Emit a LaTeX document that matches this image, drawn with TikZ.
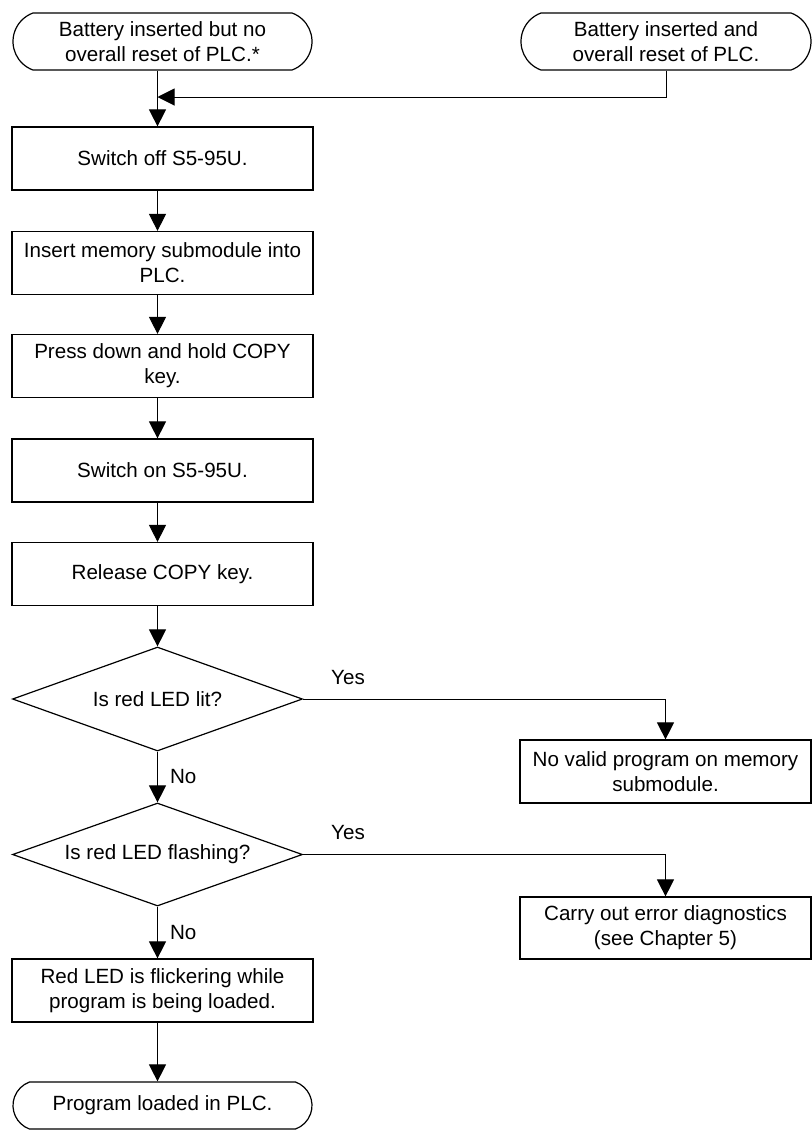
\documentclass[tikz,border=0pt]{standalone}
\usepackage{fontspec}
\setmainfont{Liberation Sans}
\usetikzlibrary{arrows.meta,positioning,shapes.geometric,shapes.misc}

\begin{document}
\begin{tikzpicture}[x=0.5pt, y=-0.5pt,
  every node/.style={font=\fontsize{10.3}{12.5}\selectfont},
  stepbox/.style={draw, line width=0.6pt, rectangle, minimum width=150.5pt, minimum height=31.5pt, align=center, inner sep=0pt},
  sidebox/.style={stepbox, minimum width=145.5pt},
  term/.style={draw, line width=0.6pt, rounded rectangle, rounded rectangle arc length=140, minimum width=149.5pt, minimum height=28.5pt, align=center, inner sep=0pt},
  decision/.style={draw, line width=0.6pt, diamond, aspect=2.8, minimum width=145pt, minimum height=52pt, inner sep=0pt, align=center},
  flow/.style={line width=0.5pt, -{Triangle[length=8.5pt, width=8.5pt]}},
  lbl/.style={inner sep=2pt}
]
\useasboundingbox (0,0) rectangle (812,1131);

% Start terminals
\node[term] (t1) at (162.5, 41.5) {Battery inserted but no\\overall reset of PLC.*};
\node[term, minimum width=145pt] (t2) at (666, 41.5) {Battery inserted and\\overall reset of PLC.};
\coordinate (join) at (157.5, 97);

% Main column
\node[stepbox] (b1) at (162.5, 158.5) {Switch off S5-95U.};
\node[stepbox] (b2) at (162.5, 263) {Insert memory submodule into\\PLC.};
\node[stepbox] (b3) at (162.5, 366) {Press down and hold COPY\\key.};
\node[stepbox] (b4) at (162.5, 470.5) {Switch on S5-95U.};
\node[stepbox] (b5) at (162.5, 574) {Release COPY key.};
\node[decision] (d1) at (157.5, 699) {Is red LED lit?};
\node[decision, minimum height=51.5pt] (d2) at (157.5, 854.5) {Is red LED flashing?};
\node[stepbox] (b6) at (162.5, 990.5) {Red LED is flickering while\\program is being loaded.};
\node[term, minimum height=23.5pt] (t3) at (162.5, 1105.5) {Program loaded in PLC.};

% Side branch
\node[sidebox] (n1) at (665.5, 771.5) {No valid program on memory\\submodule.};
\node[sidebox, minimum height=31pt] (n2) at (665.5, 928) {Carry out error diagnostics\\(see Chapter 5)};

% Connectors
\draw[flow] (t1.south -| join) -- (b1.north -| join);
\draw[flow] (t2.south) |- (join);
\foreach \a/\b in {b1/b2, b2/b3, b3/b4, b4/b5}
  \draw[flow] (\a.south -| join) -- (\b.north -| join);
\draw[flow] (b5.south -| join) -- (d1.north);
\draw[flow] (d1.south) -- node[lbl, right=4pt] {No} (d2.north);
\draw[flow] (d2.south) -- node[lbl, right=4pt] {No} (b6.north -| join);
\draw[flow] (b6.south -| join) -- (t3.north -| join);
\draw[flow] (d1.east) -- node[lbl, above=5pt, pos=0.124] {Yes} (d1.east -| n1.north) -- (n1.north);
\draw[flow] (d2.east) -- node[lbl, above=5pt, pos=0.124] {Yes} (d2.east -| n2.north) -- (n2.north);
\end{tikzpicture}
\end{document}
